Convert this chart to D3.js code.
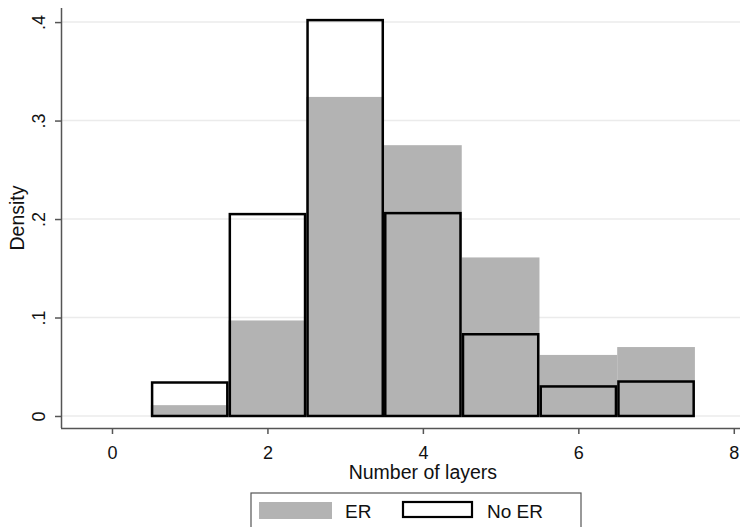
<!DOCTYPE html>
<html>
<head>
<meta charset="utf-8">
<script src="https://cdn.jsdelivr.net/npm/d3@7"></script>
<style>
  body { margin: 0; background: #fff; }
  text { font-family: "Liberation Sans", Arial, sans-serif; fill: #111; }
</style>
</head>
<body>
<svg id="chart" width="744" height="527"></svg>
<script>
// histogram bins (bin centre = number of layers, width 1)
const layers = [1, 2, 3, 4, 5, 6, 7];
const erDensity = [0.011, 0.097, 0.324, 0.275, 0.161, 0.062, 0.070];
const noErDensity = [0.034, 0.205, 0.402, 0.206, 0.083, 0.030, 0.035];
const xTicks = [0, 2, 4, 6, 8];
const yTicks = [0, 0.1, 0.2, 0.3, 0.4];
const legendLabels = ["ER", "No ER"];

const svg = d3.select("#chart");
const width = 744, height = 527;
const margin = { top: 8, right: 4, bottom: 99, left: 61 };

const x = d3.scaleLinear()
    .domain([-0.656, 8.08])
    .range([margin.left, width - margin.right]);

const y = d3.scaleLinear()
    .domain([-0.0122, 0.4143])
    .range([height - margin.bottom, margin.top]);

// gridlines
svg.append("g")
    .selectAll("line")
    .data(yTicks)
    .enter()
    .append("line")
    .attr("x1", margin.left)
    .attr("x2", width - margin.right)
    .attr("y1", d => y(d))
    .attr("y2", d => y(d))
    .attr("stroke", "#ebebeb")
    .attr("stroke-width", 1.5);

// ER bars (grey fill)
svg.append("g")
    .selectAll("rect")
    .data(layers)
    .enter()
    .append("rect")
    .attr("x", d => x(d - 0.5))
    .attr("width", d => x(d + 0.5) - x(d - 0.5))
    .attr("y", (d, i) => y(erDensity[i]))
    .attr("height", (d, i) => y(0) - y(erDensity[i]))
    .attr("fill", "#b3b3b3");

// No ER bars (outline only)
svg.append("g")
    .selectAll("rect")
    .data(layers)
    .enter()
    .append("rect")
    .attr("x", d => x(d - 0.5) + 1.25)
    .attr("width", d => x(d + 0.5) - x(d - 0.5) - 2.5)
    .attr("y", (d, i) => y(noErDensity[i]))
    .attr("height", (d, i) => y(0) - y(noErDensity[i]))
    .attr("fill", "none")
    .attr("stroke", "#000")
    .attr("stroke-width", 2.5);

// axes
const xAxis = svg.append("g")
    .attr("transform", `translate(0,${height - margin.bottom})`)
    .call(d3.axisBottom(x).tickValues(xTicks).tickSize(6).tickPadding(12).tickFormat(d3.format("d")));

const yAxis = svg.append("g")
    .attr("transform", `translate(${margin.left},0)`)
    .call(d3.axisLeft(y).tickValues(yTicks).tickSize(6).tickPadding(4)
        .tickFormat(d => d === 0 ? "0" : d3.format(".1f")(d).replace(/^0/, "")));

[xAxis, yAxis].forEach(g => {
    g.select(".domain").attr("stroke", "#555").attr("stroke-width", 1.5);
    g.selectAll(".tick line").attr("stroke", "#555").attr("stroke-width", 1.5);
    g.selectAll(".tick text").style("font-size", "18px").attr("fill", "#111");
});

xAxis.select(".domain").attr("d", `M${margin.left},0.5H${width - margin.right}`);
yAxis.select(".domain").attr("d", `M0.5,${margin.top}V${height - margin.bottom}`);

// rotated y tick labels
yAxis.selectAll(".tick text")
    .attr("x", null)
    .attr("dy", null)
    .attr("text-anchor", "middle")
    .attr("transform", "translate(-16,0) rotate(-90)");

// axis titles
svg.append("text")
    .attr("x", x(4))
    .attr("y", 479)
    .attr("text-anchor", "middle")
    .style("font-size", "19.5px")
    .text("Number of layers");

svg.append("text")
    .attr("transform", "translate(24,218) rotate(-90)")
    .attr("text-anchor", "middle")
    .style("font-size", "19.5px")
    .text("Density");

// legend
const legend = svg.append("g");
legend.append("rect")
    .attr("x", 251)
    .attr("y", 493)
    .attr("width", 330)
    .attr("height", 40)
    .attr("fill", "#fff")
    .attr("stroke", "#555")
    .attr("stroke-width", 1.2);

legend.append("rect")
    .attr("x", 259)
    .attr("y", 502)
    .attr("width", 73)
    .attr("height", 17)
    .attr("fill", "#b3b3b3");

legend.append("text")
    .attr("x", 345)
    .attr("y", 518)
    .style("font-size", "19px")
    .text(legendLabels[0]);

legend.append("rect")
    .attr("x", 403)
    .attr("y", 502)
    .attr("width", 69)
    .attr("height", 15)
    .attr("fill", "#fff")
    .attr("stroke", "#000")
    .attr("stroke-width", 2.2);

legend.append("text")
    .attr("x", 487)
    .attr("y", 518)
    .style("font-size", "19px")
    .text(legendLabels[1]);
</script>
</body>
</html>
